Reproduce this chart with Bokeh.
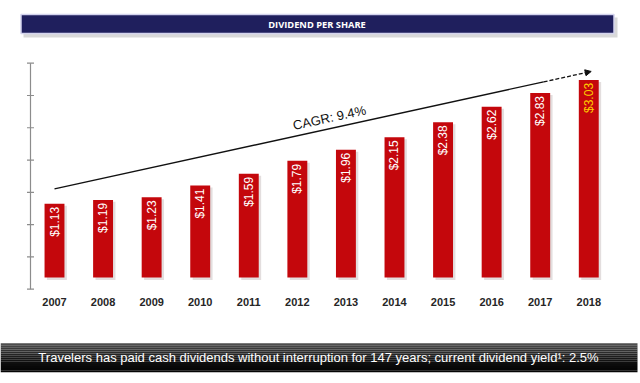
import numpy as np
from bokeh.plotting import figure
from bokeh.models import Range1d, Arrow, NormalHead, ColumnDataSource
from bokeh.core.properties import value
from bokeh.embed import file_html
from bokeh.resources import INLINE

# ---------------- data ----------------
years = [2007, 2008, 2009, 2010, 2011, 2012, 2013, 2014, 2015, 2016, 2017, 2018]
year_labels = ["2007", "2008", "2009", "2010", "2011", "2012",
               "2013", "2014", "2015", "2016", "2017", "2018"]
dividends = [1.13, 1.19, 1.23, 1.41, 1.59, 1.79, 1.96, 2.15, 2.38, 2.62, 2.83, 3.03]
div_labels = ["$1.13", "$1.19", "$1.23", "$1.41", "$1.59", "$1.79",
              "$1.96", "$2.15", "$2.38", "$2.62", "$2.83", "$3.03"]
label_colors = ["white"] * 11 + ["#ffcc00"]
cagr_x = [2007.0, 2017.07]
cagr_y = [1.36, 3.0]
cagr_proj_x = [2017.07, 2018.05]
cagr_proj_y = [3.0, 3.16]
cagr_text = "CAGR: 9.4%"
cagr_text_x = [2012.66]
cagr_text_y = [2.45]
title_text = "DIVIDEND PER SHARE"
footer_text = "Travelers has paid cash dividends without interruption for 147 years; current dividend yield\u00b9: 2.5%"

W, H = 640, 383
RED = "#c4070c"
NAVY = "#1f1f5d"
FONT = "Liberation Sans"

# layout of the data area on the canvas (pixels)
px_per_year = 48.57
px_per_unit = 65.2
first_bar_px = 54.0      # centre of first bar
baseline_px = 277.0      # y of value 0
axis_px = 30.0           # x of the value axis
axis_top_px, axis_bot_px = 62.7, 288.7

yr_start = years[0] - first_bar_px / px_per_year
yr_end = yr_start + W / px_per_year
dv_start = (baseline_px - H) / px_per_unit
dv_end = baseline_px / px_per_unit

p = figure(width=W, height=H, output_backend="svg", toolbar_location=None,
           x_range=Range1d(0, W), y_range=Range1d(H, 0), min_border=0,
           outline_line_color=None, x_axis_location=None, y_axis_location=None)
p.grid.visible = False
p.extra_x_ranges = {"yr": Range1d(yr_start, yr_end)}
p.extra_y_ranges = {"dv": Range1d(dv_start, dv_end)}

# ---------------- banner ----------------
p.quad(left=[23], right=[617], top=[17], bottom=[37], fill_color="#b8b8b8",
       fill_alpha=0.55, line_color=None)
p.quad(left=[20.5], right=[613.5], top=[14], bottom=[33], fill_color=NAVY,
       line_color="#d4d4ee", line_width=1.5)
p.text(x=[316.5], y=[23.8], text=[title_text], text_color="white",
       text_font=value("Open Sans"), text_font_size="9.3px",
       text_font_style="bold",
       text_align="center", text_baseline="middle")

# ---------------- value axis (decorative, no labels) ----------------
ax_lo = (baseline_px - axis_bot_px) / px_per_unit
ax_hi = (baseline_px - axis_top_px) / px_per_unit
yticks = list(np.linspace(ax_lo, ax_hi, 8))
p.segment(x0=[axis_px], y0=[ax_lo], x1=[axis_px], y1=[ax_hi],
          y_range_name="dv", line_color="#8c8c8c", line_width=1.2)
p.scatter(x=[axis_px] * len(yticks), y=yticks, marker="dash", size=7,
          y_range_name="dv", line_color="#8c8c8c", line_width=1.2)

# ---------------- bars ----------------
src = ColumnDataSource(dict(x=years, top=dividends, lab=div_labels, col=label_colors,
                            sx=[y + 0.05 for y in years],
                            stop=[d - 0.03 for d in dividends]))
p.vbar(x="sx", top="stop", bottom=-0.04, width=0.41, source=src,
       x_range_name="yr", y_range_name="dv",
       fill_color="#b0a0a0", fill_alpha=0.35, line_color=None)
p.vbar(x="x", top="top", bottom=0, width=0.41, source=src,
       x_range_name="yr", y_range_name="dv",
       fill_color=RED, line_color=None)
p.text(x="x", y="top", text="lab", source=src, angle=np.pi / 2,
       x_range_name="yr", y_range_name="dv",
       text_align="right", text_baseline="middle", y_offset=3,
       text_color="col", text_font=value(FONT), text_font_size="12px")

# year labels
p.text(x=years, y=[301] * len(years), text=year_labels, x_range_name="yr",
       text_align="center", text_baseline="middle", text_color="#262626",
       text_font=value(FONT), text_font_style="bold", text_font_size="11px")

# ---------------- CAGR trend ----------------
p.line(cagr_x, cagr_y, x_range_name="yr", y_range_name="dv",
       line_color="#111111", line_width=1.3)
p.add_layout(Arrow(end=NormalHead(size=6, fill_color="#111111", line_color="#111111"),
                   x_start=cagr_proj_x[0], y_start=cagr_proj_y[0],
                   x_end=cagr_proj_x[1], y_end=cagr_proj_y[1],
                   x_range_name="yr", y_range_name="dv",
                   line_color="#111111", line_width=1.3, line_dash="4 2"))
angle = np.arctan2((cagr_y[1] - cagr_y[0]) * px_per_unit,
                   (cagr_x[1] - cagr_x[0]) * px_per_year)
p.text(x=cagr_text_x, y=cagr_text_y, text=[cagr_text], angle=angle,
       x_range_name="yr", y_range_name="dv",
       text_align="center", text_baseline="middle", text_color="#111111",
       text_font=value(FONT), text_font_size="13px")

# ---------------- footer ----------------
f_top, f_bot = 342.7, 371.7
nb = 14
edges = np.linspace(f_top, f_bot, nb + 1)
greys = (1 - np.linspace(0, 1, nb)) ** 1.8
cols = ["#%02x%02x%02x" % ((int(6 + 72 * g),) * 3) for g in greys]
p.quad(left=[0] * nb, right=[637] * nb, top=list(edges[:-1]),
       bottom=list(edges[1:]), fill_color=cols, line_color=None)
p.text(x=[318], y=[356.7], text=[footer_text], text_color="white",
       text_font=value(FONT), text_font_size="13px",
       text_align="center", text_baseline="middle")

open("out.html", "w").write(file_html(p, INLINE))
